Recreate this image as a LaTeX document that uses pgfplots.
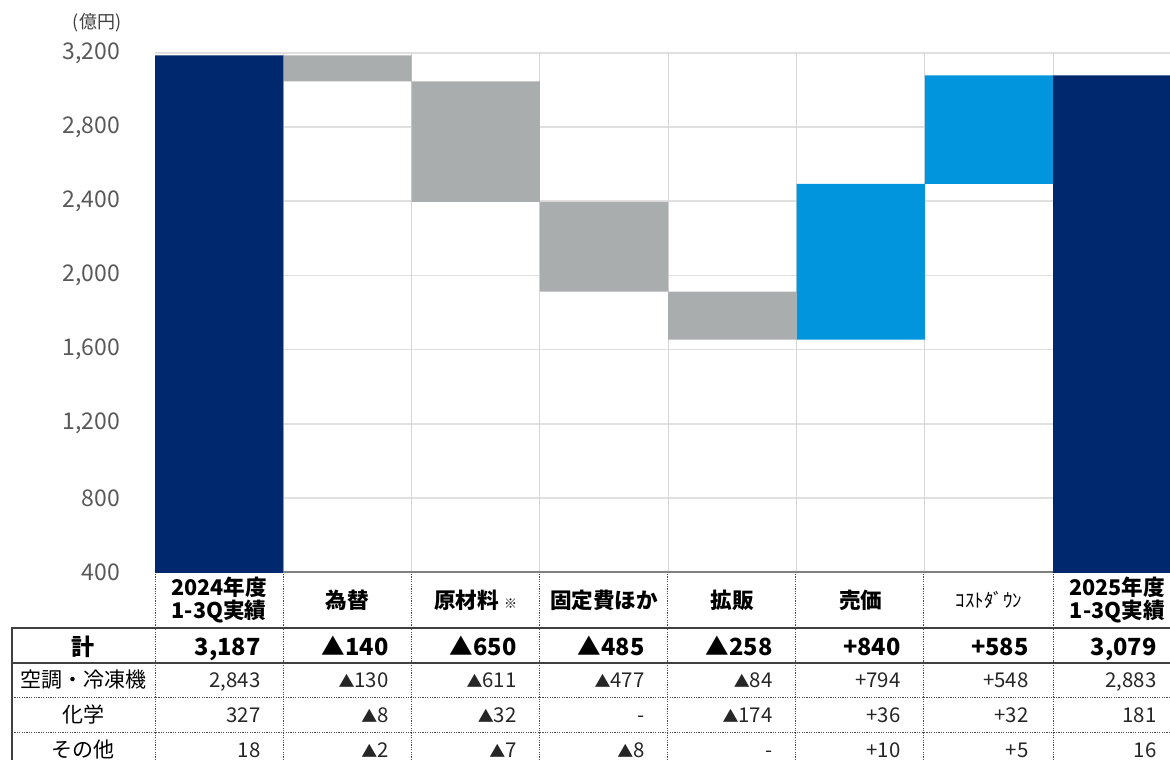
\documentclass[border=0pt]{standalone}
\usepackage{fontspec}
\setmainfont{Noto Sans CJK JP}
\usepackage{pgfplots}
\pgfplotsset{compat=1.18}
\definecolor{navy}{HTML}{00286E}
\definecolor{lblue}{HTML}{0095DC}
\definecolor{gbar}{HTML}{AAADAD}
\definecolor{gridc}{HTML}{E0E0E0}
\definecolor{vgridc}{HTML}{D6D6D6}
\definecolor{tickc}{HTML}{595959}
\newcommand{\fs}[1]{\fontsize{#1}{#1}\selectfont}
\newcommand{\tri}{{\fontsize{8}{8}\selectfont ▲}}
\begin{document}
\begin{tikzpicture}[x=0.5pt,y=0.5pt]
\useasboundingbox (0,0) rectangle (1170,760);
\begin{axis}[
  at={(77.5pt,94pt)}, anchor=south west,
  scale only axis, width=507.5pt, height=259.5pt,
  xmin=-0.5, xmax=7.411, ymin=400, ymax=3200,
  ytick={400,800,...,3200},
  ymajorgrids,
  major grid style={draw=gridc, line width=0.8pt},
  xtick={0,...,7},
  xticklabels={{2024年度\\1-3Q実績},為替,{原材料 {\mdseries\fs{6.5}※}},固定費ほか,拡販,売価,{\mdseries\fs{9.5}ｺｽﾄﾀﾞｳﾝ},{2025年度\\1-3Q実績}},
  xticklabel style={align=center, font=\fontsize{10.8}{11.5}\selectfont\bfseries, anchor=center, yshift=-14pt, text=black},
  extra x ticks={0.5,1.5,...,6.5},
  extra x tick labels={},
  extra x tick style={grid=major, major grid style={draw=vgridc, line width=0.5pt}},
  yticklabel style={font=\fs{11.5}, text=tickc, xshift=-14pt},
  /pgf/number format/1000 sep={,},
  /pgf/number format/assume math mode=true,
  axis line style={draw=none},
  tick style={draw=none},
  major tick length=0pt,
  ybar stacked, bar width=1,
]
\addplot[draw=none, fill=none] coordinates {(0,0) (1,3047) (2,2397) (3,1912) (4,1654) (5,1654) (6,2494) (7,0)};
\addplot[draw=none, fill=navy] coordinates {(0,3187) (1,0) (2,0) (3,0) (4,0) (5,0) (6,0) (7,3079)};
\addplot[draw=none, fill=gbar] coordinates {(0,0) (1,140) (2,650) (3,485) (4,258) (5,0) (6,0) (7,0)};
\addplot[draw=none, fill=lblue] coordinates {(0,0) (1,0) (2,0) (3,0) (4,0) (5,840) (6,585) (7,0)};
\end{axis}
% axis base line
\draw[line width=1.2pt, draw=black!50] (283,188) -- (1053,188);
% unit label
\node[font=\fs{9}, text=black!75] at (97,737) {(億円)};
% table lines
\draw[line width=0.8pt, draw=black!75] (12,132) -- (1170,132);
\draw[line width=0.8pt, draw=black!75] (12,97) -- (1170,97);
\draw[line width=0.8pt, draw=black!75] (12,0) -- (12,133);
\draw[line width=0.5pt, draw=black!70, dash pattern=on 0.6pt off 0.6pt] (12,63) -- (1170,63);
\draw[line width=0.5pt, draw=black!70, dash pattern=on 0.6pt off 0.6pt] (12,28) -- (1170,28);
\foreach \x in {155,283,411,539,667,795,923,1053}
  \draw[line width=0.5pt, draw=black!70, dash pattern=on 0.6pt off 0.6pt] (\x,0) -- (\x,187);
% row labels
\node[font=\fs{11.5}\bfseries, anchor=base] at (83,105) {計};
\node[font=\fs{10.5}, anchor=base] at (83,73) {空調・冷凍機};
\node[font=\fs{10.5}, anchor=base] at (83,38) {化学};
\node[font=\fs{10.5}, anchor=base] at (83,3) {その他};
% values
\foreach \v [count=\i from 0] in {3{,}187,▲140,▲650,▲485,▲258,+840,+585,3{,}079}
  \node[font=\fs{11.8}\bfseries, anchor=base east, inner sep=0pt] at (261+128*\i,105) {\v};
\foreach \v [count=\i from 0] in {2{,}843,\tri130,\tri611,\tri477,\tri84,+794,+548,2{,}883}
  \node[font=\fs{10.2}, anchor=base east, inner sep=0pt, text=black!85] at (261+128*\i,73) {\v};
\foreach \v [count=\i from 0] in {327,\tri8,\tri32,-,\tri174,+36,+32,181}
  \node[font=\fs{10.2}, anchor=base east, inner sep=0pt, text=black!85] at (261+128*\i,38) {\v};
\foreach \v [count=\i from 0] in {18,\tri2,\tri7,\tri8,-,+10,+5,16}
  \node[font=\fs{10.2}, anchor=base east, inner sep=0pt, text=black!85] at (261+128*\i,3) {\v};
\end{tikzpicture}
\end{document}
